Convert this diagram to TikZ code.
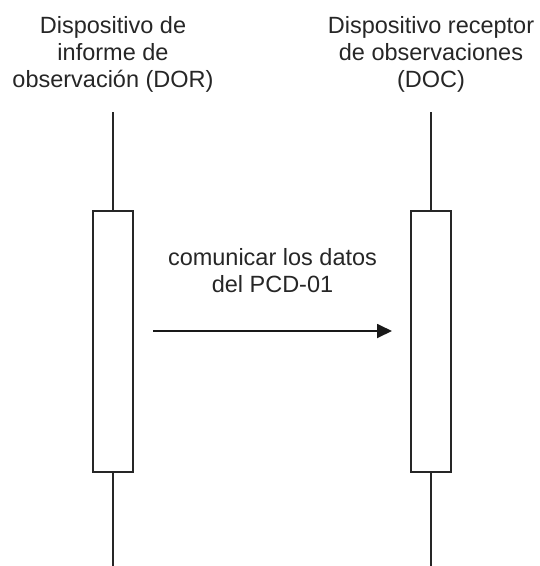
\documentclass[tikz,border=0pt]{standalone}
\usepackage{fontspec}
\setmainfont{Liberation Sans}
\usetikzlibrary{arrows.meta}
\begin{document}
\begin{tikzpicture}[x=1pt,y=-1pt,
  lbl/.style={align=center, font=\fontsize{23.5}{27}\selectfont, inner sep=0pt, text=black!85},
  actbox/.style={draw=black!85, line width=1.6pt, minimum width=40pt, minimum height=261pt, inner sep=0pt, fill=white},
  life/.style={draw=black!85, line width=1.6pt},
  msg/.style={draw=black!90, line width=1.8pt, -{Triangle[length=15pt,width=14pt]}}]
\useasboundingbox (0,0) rectangle (540,566);
% headers
\node[lbl, anchor=north] (hL) at (113,16) {Dispositivo de\\informe de\\observación (DOR)};
\node[lbl, anchor=north] (hR) at (431,16) {Dispositivo receptor\\de observaciones\\(DOC)};
% lifeline ends
\coordinate (tL) at (113,112);
\coordinate (bL) at (113,566);
\coordinate (tR) at (431,112);
\coordinate (bR) at (431,566);
% activation boxes
\node[actbox] (boxL) at (113,341.5) {};
\node[actbox] (boxR) at (431,341.5) {};
\draw[life] (tL) -- (boxL.north);
\draw[life] (boxL.south) -- (bL);
\draw[life] (tR) -- (boxR.north);
\draw[life] (boxR.south) -- (bR);
% message
\coordinate (m1) at (153,331);
\coordinate (m2) at (392,331);
\draw[msg] (m1) -- (m2);
\node[lbl, anchor=north] (lab) at (272.5,248) {comunicar los datos\\del PCD-01};
\end{tikzpicture}
\end{document}
